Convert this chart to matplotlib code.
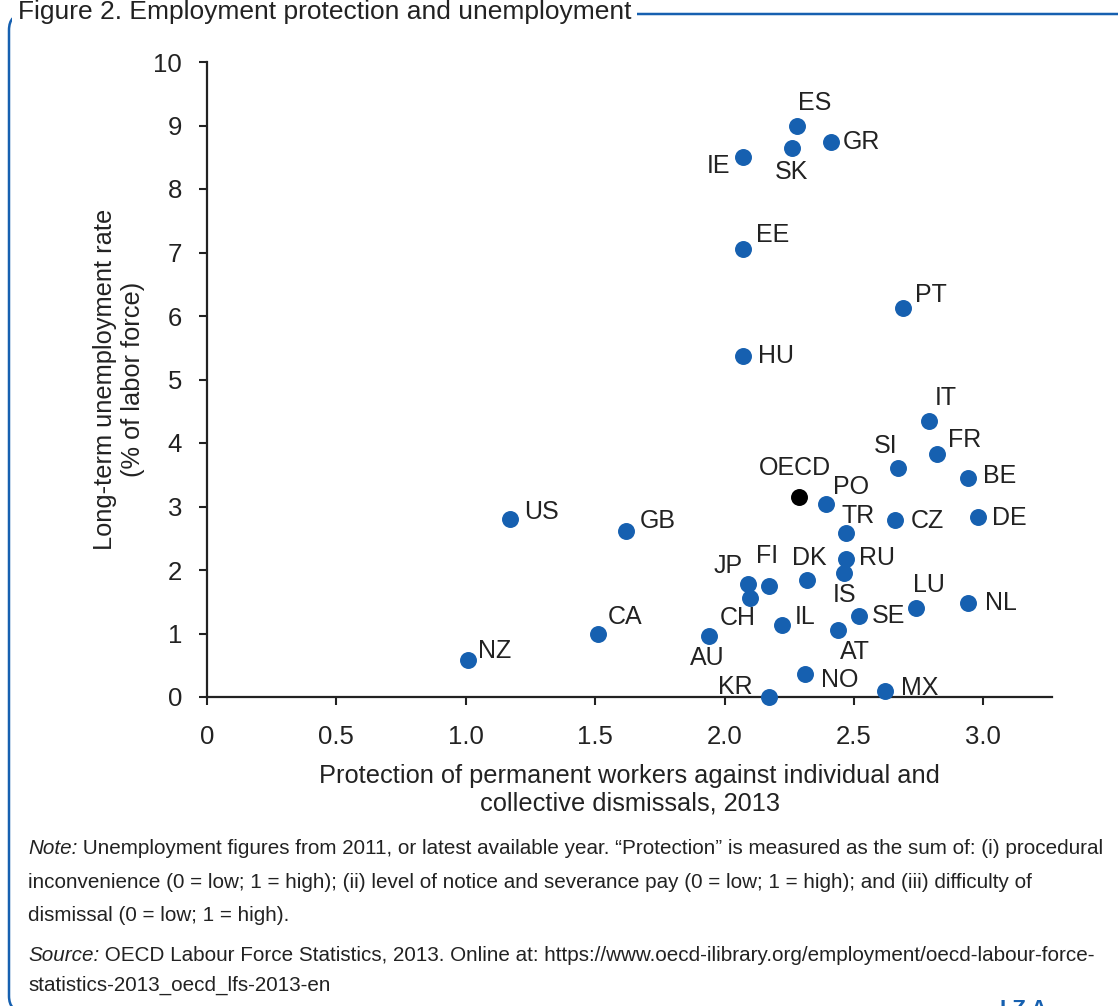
import matplotlib
matplotlib.use('Agg')
import matplotlib.pyplot as plt
from matplotlib.patches import FancyBboxPatch
from matplotlib.transforms import IdentityTransform

# Country codes and values
countries = ['ES', 'GR', 'SK', 'IE', 'EE', 'PT', 'HU', 'IT', 'FR', 'SI', 'BE',
             'PO', 'CZ', 'DE', 'TR', 'RU', 'IS', 'DK', 'JP', 'FI', 'CH', 'AU',
             'IL', 'SE', 'AT', 'LU', 'NL', 'NO', 'KR', 'MX', 'CA', 'NZ', 'US', 'GB']
protection = [2.28, 2.41, 2.26, 2.07, 2.07, 2.69, 2.07, 2.79, 2.82, 2.67, 2.94,
              2.39, 2.66, 2.98, 2.47, 2.47, 2.46, 2.32, 2.09, 2.17, 2.10, 1.94,
              2.22, 2.52, 2.44, 2.74, 2.94, 2.31, 2.17, 2.62, 1.51, 1.01, 1.17, 1.62]
unemployment = [8.99, 8.74, 8.65, 8.50, 7.06, 6.13, 5.37, 4.35, 3.83, 3.61, 3.45,
                3.04, 2.79, 2.83, 2.58, 2.17, 1.95, 1.84, 1.78, 1.75, 1.56, 0.96,
                1.13, 1.28, 1.06, 1.40, 1.48, 0.36, 0.0, 0.09, 0.99, 0.58, 2.80, 2.61]
oecd_x, oecd_y = 2.286, 3.15

# label placement (pixel offsets from the dot, horizontal alignment)
offsets = {
    'ES': (18, 23, 'center'), 'GR': (12, 0, 'left'), 'SK': (0, -24, 'center'),
    'IE': (-12, -9, 'right'), 'EE': (13, 14, 'left'), 'PT': (12, 13, 'left'),
    'HU': (15, 0, 'left'), 'IT': (6, 23, 'left'), 'FR': (11, 14, 'left'),
    'SI': (-12, 22, 'center'), 'BE': (15, 2, 'left'), 'PO': (7, 17, 'left'),
    'CZ': (15, -1, 'left'), 'DE': (14, -1, 'left'), 'TR': (-5, 17, 'left'),
    'RU': (13, 1, 'left'), 'IS': (1, -22, 'center'), 'DK': (2, 22, 'center'),
    'JP': (-5, 18, 'right'), 'FI': (-2, 30, 'center'), 'CH': (-13, -20, 'center'),
    'AU': (-2, -22, 'center'), 'IL': (13, 8, 'left'), 'SE': (13, 0, 'left'),
    'AT': (16, -22, 'center'), 'LU': (-3, 23, 'left'), 'NL': (17, 0, 'left'),
    'NO': (16, -6, 'left'), 'KR': (-16, 10, 'right'), 'MX': (16, 3, 'left'),
    'CA': (10, 17, 'left'), 'NZ': (10, 9, 'left'), 'US': (14, 7, 'left'),
    'GB': (13, 10, 'left'),
}

blue = '#1660b0'
dark = '#222222'
plt.rcParams['font.family'] = ['Liberation Sans', 'DejaVu Sans']

fig = plt.figure(figsize=(11.18, 10.06), dpi=100)
ax = fig.add_axes([207 / 1118, 1 - 697 / 1006, 845 / 1118, 635 / 1006])

ax.scatter(protection, unemployment, s=125, color=blue, zorder=3, clip_on=False)
ax.scatter([oecd_x], [oecd_y], s=125, color='black', zorder=3)

lab_size = 18
for c, x, y in zip(countries, protection, unemployment):
    dx, dy, ha = offsets[c]
    ax.annotate(c, (x, y), xytext=(dx, dy), textcoords='offset pixels',
                ha=ha, va='center', fontsize=lab_size, color=dark)
ax.annotate('OECD', (oecd_x, oecd_y), xytext=(-4, 29), textcoords='offset pixels',
            ha='center', va='center', fontsize=lab_size, color=dark)

ax.set_xlim(0, 3.265)
ax.set_ylim(0, 10)
ax.set_xticks([0, 0.5, 1.0, 1.5, 2.0, 2.5, 3.0])
ax.set_xticklabels(['0', '0.5', '1.0', '1.5', '2.0', '2.5', '3.0'])
ax.set_yticks(range(0, 11))
ax.tick_params(labelsize=18.5, colors=dark, length=6, width=1.5)
ax.tick_params(axis='x', pad=14)
ax.tick_params(axis='y', pad=12)
for s in ['top', 'right']:
    ax.spines[s].set_visible(False)
for s in ['left', 'bottom']:
    ax.spines[s].set_linewidth(1.6)
    ax.spines[s].set_color(dark)

ax.set_xlabel('Protection of permanent workers against individual and\ncollective dismissals, 2013',
              fontsize=18.3, color=dark, labelpad=11, linespacing=1.2)
ax.set_ylabel('Long-term unemployment rate\n(% of labor force)',
              fontsize=18.3, color=dark, labelpad=6, linespacing=1.2)

# frame around the figure
frame = FancyBboxPatch((9, -6), 1128, 998, boxstyle='round,pad=0,rounding_size=16',
                       transform=IdentityTransform(), fill=False, edgecolor=blue, lw=1.8)
fig.patches.append(frame)

fig.text(18, 1006 - 12, 'Figure 2. Employment protection and unemployment',
         transform=IdentityTransform(), fontsize=19, color=dark, va='center', ha='left',
         bbox=dict(facecolor='white', edgecolor='none', pad=4))

# notes
note_size = 14.9
note_lines = [
    ('Note:', ' Unemployment figures from 2011, or latest available year. \u201cProtection\u201d is measured as the sum of: (i) procedural', 854),
    ('', 'inconvenience (0 = low; 1 = high); (ii) level of notice and severance pay (0 = low; 1 = high); and (iii) difficulty of', 888),
    ('', 'dismissal (0 = low; 1 = high).', 921),
    ('Source:', ' OECD Labour Force Statistics, 2013. Online at: https://www.oecd-ilibrary.org/employment/oecd-labour-force-', 961),
    ('', 'statistics-2013_oecd_lfs-2013-en', 991),
]
for lead, rest, ypix in note_lines:
    t = fig.text(28, 1006 - ypix, lead, transform=IdentityTransform(), fontsize=note_size,
                 style='italic', color=dark, va='baseline', ha='left')
    if lead:
        ax.annotate(rest, xy=(1, 0), xycoords=t, fontsize=note_size, color=dark,
                    va='bottom', ha='left', annotation_clip=False)
    else:
        t.set_text(rest)
        t.set_style('normal')

fig.text(1000, 1006 - 1020, 'I Z A', transform=IdentityTransform(), fontsize=16,
         fontweight='bold', color=blue, va='bottom', ha='left')

fig.savefig('out.png', dpi=100)
